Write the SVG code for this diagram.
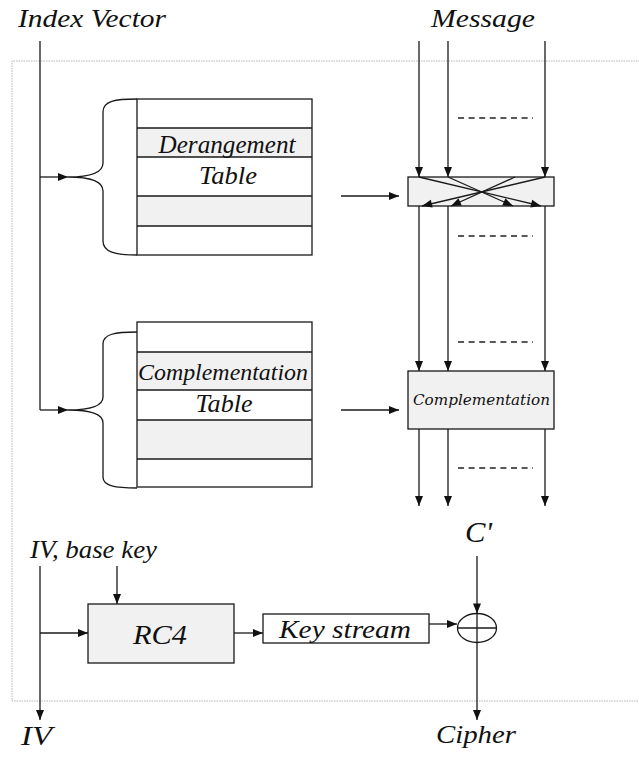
<svg xmlns="http://www.w3.org/2000/svg" width="639" height="758" viewBox="0 0 639 758">
<style>
.ln{stroke:#1a1a1a;stroke-width:1.3;fill:none}
.ar{marker-end:url(#ah)}
.bx{stroke:#1a1a1a;stroke-width:1.3;fill:#ffffff}
.sh{fill:#f1f1f1}
.dash{stroke:#222;stroke-width:1.4;stroke-dasharray:6,4.6;fill:none}
.t{font-family:"Liberation Serif","Times New Roman",serif;font-style:italic;fill:#111}
.ts{font-family:"DejaVu Serif",serif;font-style:italic;fill:#111}
</style>
<defs>
<marker id="ah" markerUnits="userSpaceOnUse" markerWidth="10" markerHeight="8" refX="10" refY="4" orient="auto" overflow="visible">
<path d="M0,0 L10,4 L0,8 z" fill="#111"/>
</marker>
</defs>
<rect width="639" height="758" fill="#ffffff"/>
<path d="M640,61 H12 V701 H640" fill="none" stroke="#b5b5b5" stroke-width="1" stroke-dasharray="1.5,1"/>

<g id="label-index"><text class="t" x="18" y="27" font-size="25" textLength="148" lengthAdjust="spacingAndGlyphs">Index Vector</text></g>
<g id="label-message"><text class="t" x="431" y="27" font-size="26" textLength="104" lengthAdjust="spacingAndGlyphs">Message</text></g>

<g id="derangement-table">
<rect class="sh" x="137" y="128" width="175" height="29"/>
<rect class="sh" x="137" y="196" width="175" height="30"/>
<rect x="137" y="99" width="175" height="156" style="fill:none;stroke:#1a1a1a;stroke-width:1.3"/>
<path class="ln" d="M137,128 H312 M137,157 H312 M137,196 H312 M137,226 H312"/>
<text class="t" x="227" y="153" font-size="25" text-anchor="middle" textLength="137" lengthAdjust="spacingAndGlyphs">Derangement</text>
<text class="t" x="228" y="184" font-size="25" text-anchor="middle" textLength="58" lengthAdjust="spacingAndGlyphs">Table</text>
</g>
<g id="brace-1"><path class="ln" d="M137,99 C115,99 103,101 103,112 V163 C103,173 90,177 68,177 C90,177 103,181 103,191 V241 C103,252 115,255 137,255"/></g>

<g id="complementation-table">
<rect class="sh" x="137" y="352" width="175" height="38"/>
<rect class="sh" x="137" y="420" width="175" height="39"/>
<rect x="137" y="322" width="175" height="165" style="fill:none;stroke:#1a1a1a;stroke-width:1.3"/>
<path class="ln" d="M137,352 H312 M137,390 H312 M137,420 H312 M137,459 H312"/>
<text class="t" x="223" y="380" font-size="24" text-anchor="middle" textLength="170" lengthAdjust="spacingAndGlyphs">Complementation</text>
<text class="t" x="224" y="412" font-size="25" text-anchor="middle" textLength="57" lengthAdjust="spacingAndGlyphs">Table</text>
</g>
<g id="brace-2"><path class="ln" d="M137,332 C115,332 103,334 103,344 V397 C103,406 90,410 68,410 C90,410 103,414 103,423 V477 C103,486 115,488 137,488"/></g>

<g id="derangement-box">
<rect class="bx" x="408" y="177" width="146" height="29" style="fill:#f1f1f1"/>
</g>
<g id="complementation-box">
<rect class="bx" x="408" y="371" width="146" height="58" style="fill:#f1f1f1"/>
<text class="ts" x="413" y="405" font-size="15" textLength="137" lengthAdjust="spacingAndGlyphs">Complementation</text>
</g>

<g id="rc4">
<rect class="bx" x="88" y="604" width="146" height="59" style="fill:#f1f1f1"/>
<text class="t" x="133" y="644" font-size="27" textLength="54" lengthAdjust="spacingAndGlyphs">RC4</text>
</g>
<g id="keystream">
<rect class="bx" x="263" y="614" width="166" height="29"/>
<text class="t" x="279" y="638" font-size="25" textLength="132" lengthAdjust="spacingAndGlyphs">Key stream</text>
</g>
<g id="xor">
<ellipse cx="477" cy="628" rx="19.5" ry="14.5" class="ln"/>
<path class="ln" d="M457.5,628 H496.5"/>
</g>

<g id="label-ivkey"><text class="t" x="30" y="558" font-size="25" textLength="127" lengthAdjust="spacingAndGlyphs">IV, base key</text></g>
<g id="label-iv"><text class="t" x="21" y="745" font-size="27" textLength="31" lengthAdjust="spacingAndGlyphs">IV</text></g>
<g id="label-cprime"><text class="t" x="465" y="542" font-size="29" textLength="27" lengthAdjust="spacingAndGlyphs">C'</text></g>
<g id="label-cipher"><text class="t" x="436" y="743" font-size="25" textLength="80" lengthAdjust="spacingAndGlyphs">Cipher</text></g>

<g id="connectors">
<path class="ln" d="M40,41 V410"/>
<path class="ln ar" d="M40,177 H68"/>
<path class="ln ar" d="M40,410 H68"/>
<path class="ln ar" d="M419,41 V177"/>
<path class="ln ar" d="M448,41 V177"/>
<path class="ln ar" d="M545,41 V177"/>
<path class="ln ar" d="M341,196 H399"/>
<path class="ln ar" d="M419,177 L541,206"/>
<path class="ln ar" d="M448,177 L513,206"/>
<path class="ln ar" d="M545,177 L422,206"/>
<path class="ln ar" d="M515,177 L451,206"/>
<path class="ln ar" d="M419,206 V371"/>
<path class="ln ar" d="M448,206 V371"/>
<path class="ln ar" d="M545,206 V371"/>
<path class="ln ar" d="M341,410 H399"/>
<path class="ln ar" d="M419,429 V506"/>
<path class="ln ar" d="M448,429 V506"/>
<path class="ln ar" d="M545,429 V506"/>
<path class="dash" d="M458,118 H533 M458,236 H533 M458,342 H533 M458,468 H533"/>
<path class="ln ar" d="M117,566 V604"/>
<path class="ln ar" d="M40,566 V720"/>
<path class="ln ar" d="M40,633 H88"/>
<path class="ln ar" d="M234,633 H263"/>
<path class="ln ar" d="M429,624 H457"/>
<path class="ln ar" d="M477,556 V613.5"/>
<path class="ln ar" d="M477,613.5 V720"/>
</g>
</svg>
